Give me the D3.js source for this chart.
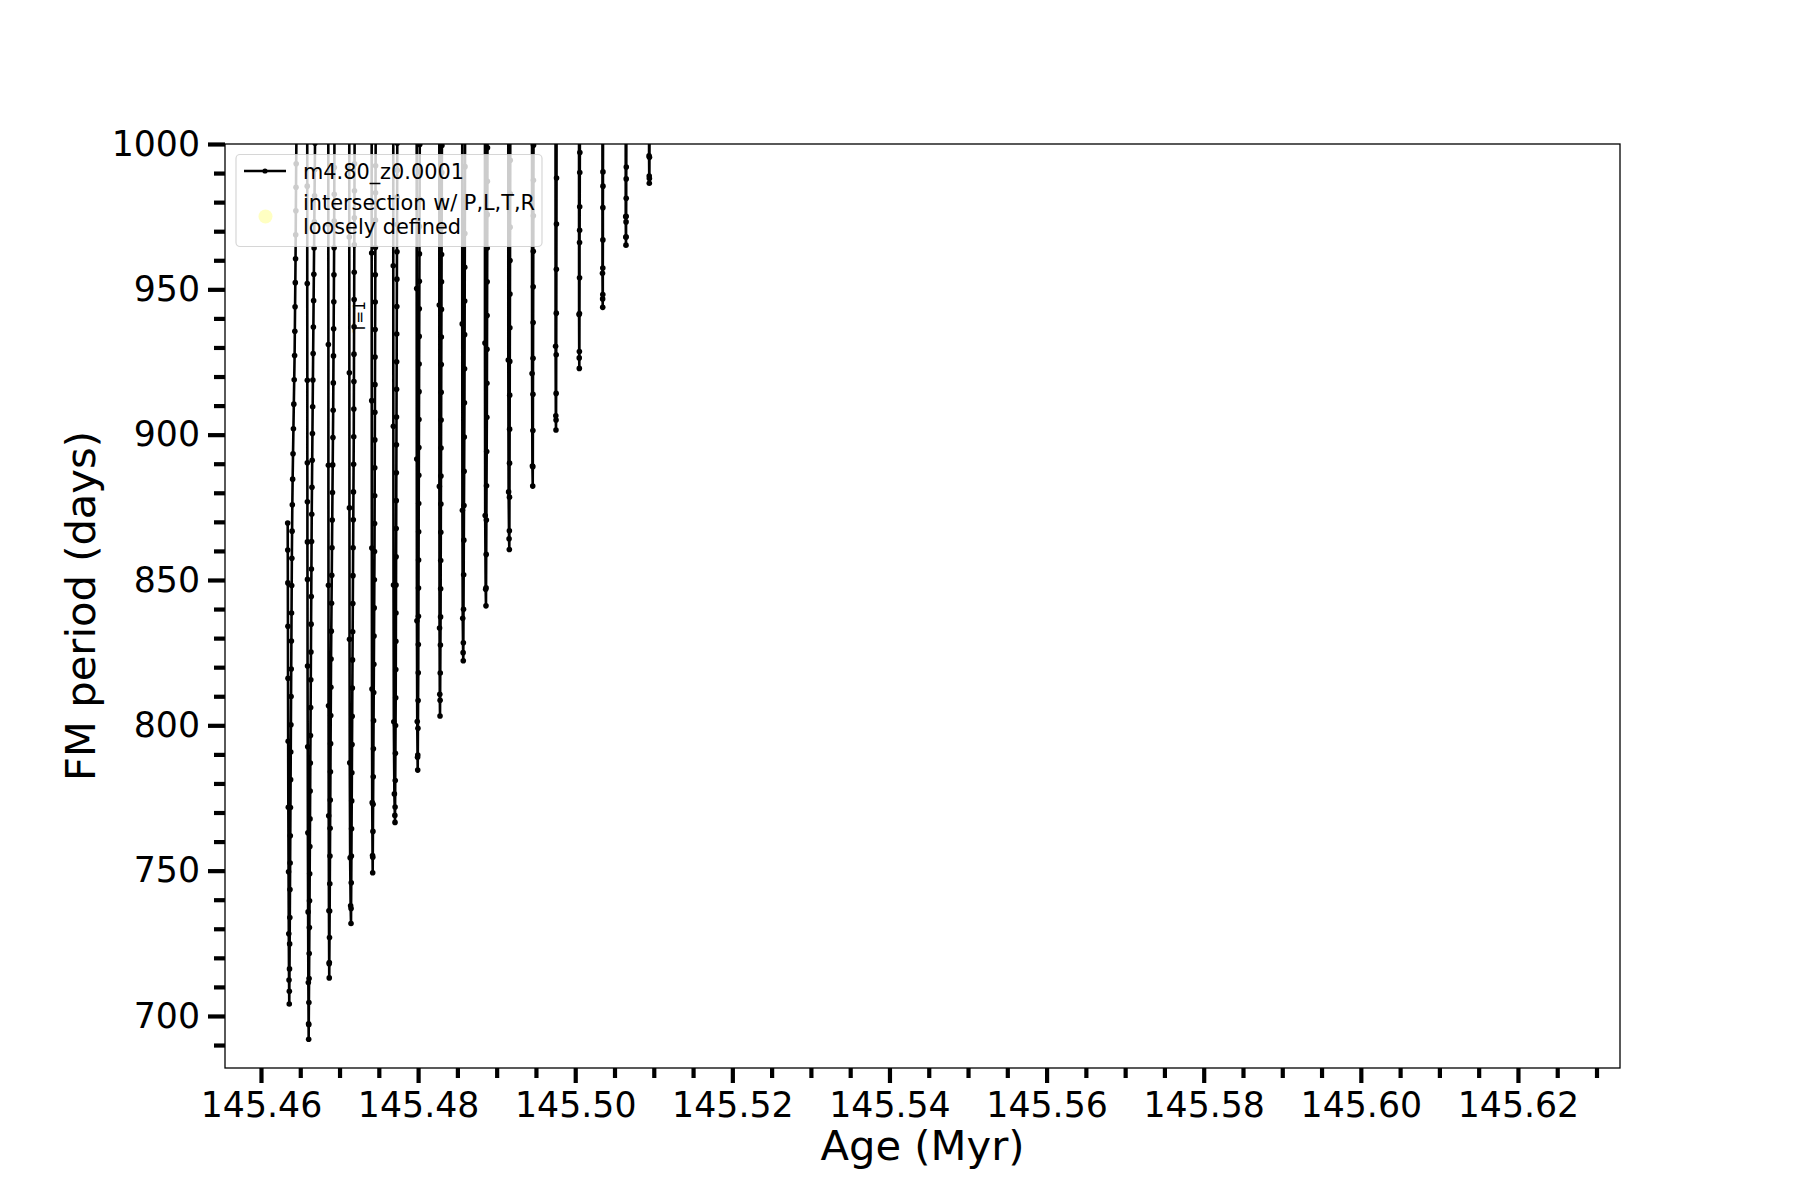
<!DOCTYPE html>
<html><head><meta charset="utf-8">
<script src="https://cdn.jsdelivr.net/npm/d3@7"></script>
<style>html,body{margin:0;padding:0;background:#fff;} svg{display:block;font-family:"DejaVu Sans",sans-serif;}</style>
</head><body>
<svg id="chart" width="1800" height="1200"></svg>
<script>
// ---- data: [age (Myr), FM period (days)], one array per pulse cycle ----
const cycle01 = [[145.46340,869.6],[145.46341,860.3],[145.46342,849.0],[145.46343,834.1],[145.46344,816.2],[145.46346,794.5],[145.46348,771.8],[145.46351,749.6],[145.46354,728.3],[145.46357,712.4],[145.46360,704.1],
 [145.46361,708.5],[145.46363,716.2],[145.46365,724.8],[145.46367,733.9],[145.46369,743.5],[145.46371,752.6],[145.46373,762.0],[145.46375,771.7],[145.46377,781.3],[145.46379,790.8],[145.46381,800.2],[145.46383,809.9],[145.46385,819.4],[145.46387,829.0],[145.46389,838.6],[145.46391,848.1],[145.46393,857.5],[145.46396,866.8],[145.46399,875.9],[145.46403,884.7],[145.46408,893.4],[145.46413,902.0],[145.46418,910.5],[145.46423,918.9],[145.46428,927.2],[145.46431,935.6],[145.46434,944.0],[145.46437,952.3],[145.46440,960.5],[145.46442,968.8],[145.46444,977.0],[145.46446,985.1],[145.46448,993.2],[145.46451,1001.4],[145.46455,1040]];
const cycle02 = [[145.46589,1040],[145.46589,985.5],[145.46589,952.0],[145.46590,918.7],[145.46590,890.3],[145.46591,876.9],[145.46591,863.1],[145.46592,850.2],[145.46593,820.4],[145.46595,792.6],[145.46597,763.0],[145.46600,735.8],[145.46603,711.5],[145.46606,697.3],[145.46607,692.0],
 [145.46608,697.0],[145.46610,704.6],[145.46612,712.9],[145.46614,721.5],[145.46616,730.4],[145.46618,739.6],[145.46620,748.9],[145.46622,758.3],[145.46624,767.8],[145.46626,777.4],[145.46628,787.0],[145.46630,796.5],[145.46632,806.1],[145.46634,815.7],[145.46636,825.2],[145.46638,834.8],[145.46640,844.3],[145.46642,853.8],[145.46644,863.2],[145.46646,872.6],[145.46649,881.9],[145.46652,891.2],[145.46655,900.4],[145.46658,909.6],[145.46661,918.8],[145.46664,927.9],[145.46667,937.0],[145.46670,946.1],[145.46673,955.2],[145.46676,964.2],[145.46679,973.2],[145.46682,982.2],[145.46685,991.2],[145.46688,1000.3],[145.46692,1040]];
const cycle03 = [[145.46857,1040],[145.46857,972.4],[145.46858,931.0],[145.46858,889.5],[145.46859,848.2],[145.46860,806.7],[145.46862,768.9],[145.46865,736.2],[145.46868,718.0],[145.46869,713.1],
 [145.46870,718.4],[145.46872,727.0],[145.46874,736.1],[145.46876,745.5],[145.46878,755.0],[145.46880,764.6],[145.46882,774.3],[145.46884,784.0],[145.46886,793.7],[145.46888,803.4],[145.46890,813.1],[145.46892,822.8],[145.46895,832.4],[145.46898,842.0],[145.46901,851.6],[145.46904,861.1],[145.46907,870.6],[145.46910,880.1],[145.46913,889.6],[145.46916,899.0],[145.46919,908.4],[145.46921,917.8],[145.46923,927.1],[145.46925,936.4],[145.46927,945.7],[145.46929,955.0],[145.46931,964.3],[145.46932,973.5],[145.46933,982.7],[145.46934,991.9],[145.46935,1001.1],[145.46938,1040]];
const cycle04 = [[145.47124,1040],[145.47124,968.0],[145.47125,921.3],[145.47126,874.8],[145.47127,829.6],[145.47130,787.1],[145.47135,754.4],[145.47141,737.9],[145.47146,731.8],
 [145.47147,737.0],[145.47149,745.8],[145.47151,755.0],[145.47153,764.4],[145.47155,774.0],[145.47157,783.7],[145.47159,793.4],[145.47161,803.1],[145.47163,812.8],[145.47165,822.5],[145.47167,832.2],[145.47169,841.9],[145.47171,851.5],[145.47173,861.1],[145.47175,870.7],[145.47177,880.3],[145.47179,889.8],[145.47181,899.3],[145.47182,908.8],[145.47183,918.3],[145.47184,927.7],[145.47185,937.1],[145.47186,946.5],[145.47187,955.9],[145.47188,965.3],[145.47189,974.6],[145.47190,983.9],[145.47191,993.2],[145.47192,1002.5],[145.47194,1040]];
const cycle05 = [[145.47409,1040],[145.47409,962.5],[145.47410,911.7],[145.47411,861.0],[145.47413,812.5],[145.47416,773.4],[145.47420,755.2],[145.47422,749.3],
 [145.47423,754.6],[145.47425,763.5],[145.47427,772.8],[145.47429,782.3],[145.47431,791.9],[145.47433,801.6],[145.47435,811.3],[145.47437,821.0],[145.47439,830.7],[145.47441,840.4],[145.47443,850.1],[145.47445,859.8],[145.47446,869.4],[145.47447,879.0],[145.47448,888.6],[145.47449,898.2],[145.47450,907.7],[145.47451,917.2],[145.47452,926.7],[145.47453,936.2],[145.47454,945.6],[145.47455,955.0],[145.47456,964.4],[145.47457,973.8],[145.47458,983.2],[145.47459,992.5],[145.47460,1001.8],[145.47462,1040]];
const cycle06 = [[145.47684,1040],[145.47684,958.1],[145.47685,902.9],[145.47687,848.3],[145.47691,801.2],[145.47698,776.4],[145.47704,769.0],[145.47706,766.6],
 [145.47707,771.9],[145.47709,781.0],[145.47711,790.4],[145.47713,799.9],[145.47715,809.5],[145.47716,819.2],[145.47717,828.9],[145.47718,838.6],[145.47719,848.3],[145.47720,858.0],[145.47721,867.7],[145.47722,877.3],[145.47723,886.9],[145.47724,896.5],[145.47725,906.1],[145.47726,915.6],[145.47727,925.1],[145.47728,934.6],[145.47729,944.1],[145.47730,953.5],[145.47731,962.9],[145.47732,972.3],[145.47733,981.7],[145.47734,991.0],[145.47735,1000.3],[145.47737,1040]];
const cycle07 = [[145.47982,1040],[145.47982,950.3],[145.47983,891.6],[145.47985,836.0],[145.47989,801.3],[145.47993,789.0],[145.47995,784.6],
 [145.47996,789.8],[145.47998,799.0],[145.48000,808.5],[145.48002,818.1],[145.48003,827.8],[145.48004,837.5],[145.48005,847.2],[145.48006,856.9],[145.48007,866.6],[145.48008,876.3],[145.48009,886.0],[145.48010,895.6],[145.48011,905.2],[145.48012,914.8],[145.48013,924.3],[145.48014,933.8],[145.48015,943.3],[145.48016,952.8],[145.48017,962.2],[145.48018,971.6],[145.48019,981.0],[145.48020,990.4],[145.48021,999.8],[145.48023,1040]];
const cycle08 = [[145.48270,1040],[145.48270,944.6],[145.48271,882.2],[145.48273,833.5],[145.48276,810.7],[145.48279,803.2],
 [145.48280,808.6],[145.48282,818.0],[145.48284,827.6],[145.48286,837.3],[145.48287,847.0],[145.48288,856.7],[145.48289,866.4],[145.48290,876.1],[145.48291,885.8],[145.48292,895.4],[145.48293,905.0],[145.48294,914.6],[145.48295,924.1],[145.48296,933.6],[145.48297,943.1],[145.48298,952.6],[145.48299,962.0],[145.48300,971.4],[145.48301,980.8],[145.48302,990.2],[145.48303,999.5],[145.48305,1040]];
const cycle09 = [[145.48562,1040],[145.48562,938.1],[145.48564,874.0],[145.48568,836.8],[145.48573,825.0],[145.48575,822.2],
 [145.48576,828.4],[145.48578,839.9],[145.48580,851.8],[145.48582,863.7],[145.48584,875.6],[145.48586,887.4],[145.48588,899.2],[145.48590,911.0],[145.48591,922.7],[145.48592,934.4],[145.48593,946.0],[145.48594,957.6],[145.48595,969.2],[145.48596,980.7],[145.48597,992.2],[145.48598,1003.7],[145.48600,1040]];
const cycle10 = [[145.48851,1040],[145.48851,931.5],[145.48854,872.2],[145.48860,846.8],[145.48864,841.1],
 [145.48865,847.3],[145.48867,858.8],[145.48869,870.6],[145.48871,882.4],[145.48873,894.2],[145.48875,906.0],[145.48876,917.7],[145.48877,929.4],[145.48878,941.0],[145.48879,952.6],[145.48880,964.2],[145.48881,975.7],[145.48882,987.2],[145.48883,998.7],[145.48885,1040]];
const cycle11 = [[145.49148,1040],[145.49148,925.7],[145.49152,880.3],[145.49158,864.2],[145.49161,860.5],
 [145.49162,866.9],[145.49163,878.5],[145.49164,890.2],[145.49165,901.9],[145.49166,913.6],[145.49167,925.2],[145.49168,936.8],[145.49169,948.4],[145.49170,959.9],[145.49171,971.4],[145.49172,982.9],[145.49173,994.4],[145.49175,1040]];
const cycle12 = [[145.49450,1040],[145.49451,921.0],[145.49455,889.2],[145.49459,882.3],
 [145.49460,889.0],[145.49461,901.4],[145.49462,913.9],[145.49463,926.3],[145.49464,938.6],[145.49465,950.9],[145.49466,963.1],[145.49467,975.3],[145.49468,987.5],[145.49469,999.6],[145.49471,1040]];
const cycle13 = [[145.49749,1040],[145.49750,930.4],[145.49753,906.5],[145.49755,901.6],
 [145.49756,905.0],[145.49757,914.2],[145.49758,927.5],[145.49759,941.8],[145.49760,956.9],[145.49761,972.5],[145.49762,988.3],[145.49764,1040]];
const cycle14 = [[145.50048,1040],[145.50049,941.3],[145.50051,926.4],[145.50052,922.8],
 [145.50053,928.6],[145.50054,941.7],[145.50055,954.0],[145.50055,966.1],[145.50056,970.3],[145.50057,978.4],[145.50058,990.2],[145.50059,997.1],[145.50061,1040]];
const cycle15 = [[145.50346,1040],[145.50347,955.5],[145.50349,946.7],[145.50350,943.8],
 [145.50351,948.2],[145.50351,957.3],[145.50352,967.0],[145.50352,978.1],[145.50353,985.5],[145.50353,990.4],[145.50354,1002.0],[145.50356,1040]];
const cycle16 = [[145.50642,1040],[145.50643,975.0],[145.50645,967.9],[145.50646,965.2],
 [145.50647,968.1],[145.50647,973.2],[145.50648,975.1],[145.50649,981.3],[145.50649,988.0],[145.50650,992.1],[145.50651,1003.5],[145.50653,1040]];
const cycle17 = [[145.50939,1040],[145.50940,995.9],[145.50942,989.0],[145.50943,986.5],
 [145.50944,988.1],[145.50945,995.4],[145.50946,1004.0],[145.50948,1040]];

const seriesName = "m4.80_z0.0001";
const intersectionLabel = ["intersection w/ P,L,T,R", "loosely defined"];
const annotation = {age: 145.47260, period: 940.5, text: "T=1"};
const xTickLabels = [145.46, 145.48, 145.50, 145.52, 145.54, 145.56, 145.58, 145.60, 145.62];
const xMinorTicks = [145.465, 145.47, 145.475, 145.485, 145.49, 145.495, 145.505, 145.51, 145.515, 145.525, 145.53, 145.535, 145.545, 145.55, 145.555, 145.565, 145.57, 145.575, 145.585, 145.59, 145.595, 145.605, 145.61, 145.615, 145.625, 145.63];
const yTickLabels = [700, 750, 800, 850, 900, 950, 1000];
const yMinorTicks = [690, 710, 720, 730, 740, 760, 770, 780, 790, 810, 820, 830, 840, 860, 870, 880, 890, 910, 920, 930, 940, 960, 970, 980, 990];
const xDomain = [145.45542, 145.63299];
const yDomain = [682.1, 1000];

// ---- drawing ----
const track = [cycle01, cycle02, cycle03, cycle04, cycle05, cycle06, cycle07, cycle08, cycle09,
               cycle10, cycle11, cycle12, cycle13, cycle14, cycle15, cycle16, cycle17].flat();

const L = 225, R = 1620, T = 144, B = 1068;
const svg = d3.select("#chart");
const x = d3.scaleLinear().domain(xDomain).range([L, R]);
const y = d3.scaleLinear().domain(yDomain).range([B, T]);

svg.append("defs").append("clipPath").attr("id", "clip")
  .append("rect").attr("x", L).attr("y", T).attr("width", R - L).attr("height", B - T);

const tickFont = 34.72, labelFont = 41.67, legendFont = 20.83;

function styleAxis(g, w) {
  g.select(".domain").remove();
  g.selectAll(".tick line").attr("stroke", "#000").attr("stroke-width", w);
  g.selectAll(".tick text").attr("fill", "#000").attr("font-size", tickFont)
    .attr("font-family", "DejaVu Sans");
}
svg.append("g").attr("transform", `translate(0,${B})`)
  .call(d3.axisBottom(x).tickValues(xMinorTicks).tickSize(10).tickFormat(""))
  .call(g => styleAxis(g, 4.2));
svg.append("g").attr("transform", `translate(0,${B})`)
  .call(d3.axisBottom(x).tickValues(xTickLabels).tickSize(15).tickPadding(9).tickFormat(d3.format(".2f")))
  .call(g => styleAxis(g, 4.2));
svg.append("g").attr("transform", `translate(${L},0)`)
  .call(d3.axisLeft(y).tickValues(yMinorTicks).tickSize(11).tickFormat(""))
  .call(g => styleAxis(g, 4.2));
svg.append("g").attr("transform", `translate(${L},0)`)
  .call(d3.axisLeft(y).tickValues(yTickLabels).tickSize(17).tickPadding(8).tickFormat(d3.format("d")))
  .call(g => styleAxis(g, 4.2));

// data line + markers
const plot = svg.append("g").attr("clip-path", "url(#clip)");
const line = d3.line().x(d => x(d[0])).y(d => y(d[1]));
plot.append("path").datum(track).attr("d", line)
  .attr("fill", "none").attr("stroke", "#000").attr("stroke-width", 2.6).attr("stroke-linejoin", "round");
plot.selectAll("circle.pt").data(track).join("circle").attr("class", "pt")
  .attr("cx", d => x(d[0])).attr("cy", d => y(d[1])).attr("r", 2.8).attr("fill", "#000");

// annotation
svg.append("text")
  .attr("transform", `translate(${x(annotation.age)},${y(annotation.period)}) rotate(-90)`)
  .attr("text-anchor", "middle").attr("dy", "0.35em")
  .attr("font-size", 15).attr("fill", "#000").text(annotation.text);

// spines
svg.append("rect").attr("x", L).attr("y", T).attr("width", R - L).attr("height", B - T)
  .attr("fill", "none").attr("stroke", "#000").attr("stroke-width", 1.3);

// axis labels
svg.append("text").attr("x", (L + R) / 2).attr("y", 1160).attr("text-anchor", "middle")
  .attr("font-size", labelFont).attr("fill", "#000").text("Age (Myr)");
svg.append("text").attr("transform", `translate(95,${(T + B) / 2}) rotate(-90)`)
  .attr("text-anchor", "middle").attr("font-size", labelFont).attr("fill", "#000").text("FM period (days)");

// legend
const lg = svg.append("g");
lg.append("rect").attr("x", 236).attr("y", 154.5).attr("width", 306).attr("height", 92)
  .attr("rx", 4).attr("fill", "#fff").attr("fill-opacity", 0.8)
  .attr("stroke", "#cccccc").attr("stroke-opacity", 0.8).attr("stroke-width", 1.2);
lg.append("line").attr("x1", 244).attr("x2", 286).attr("y1", 171).attr("y2", 171)
  .attr("stroke", "#000").attr("stroke-width", 2.4);
lg.append("circle").attr("cx", 265).attr("cy", 171).attr("r", 2.6).attr("fill", "#000");
lg.append("text").attr("x", 303).attr("y", 178.5).attr("font-size", legendFont).attr("fill", "#000").text(seriesName);
lg.append("circle").attr("cx", 265.5).attr("cy", 216.5).attr("r", 7).attr("fill", "#ffff99").attr("fill-opacity", 0.6);
lg.selectAll("text.l2").data(intersectionLabel).join("text").attr("class", "l2")
  .attr("x", 303).attr("y", (d, i) => 210 + i * 23.5).attr("font-size", legendFont).attr("fill", "#000").text(d => d);
</script>
</body></html>
